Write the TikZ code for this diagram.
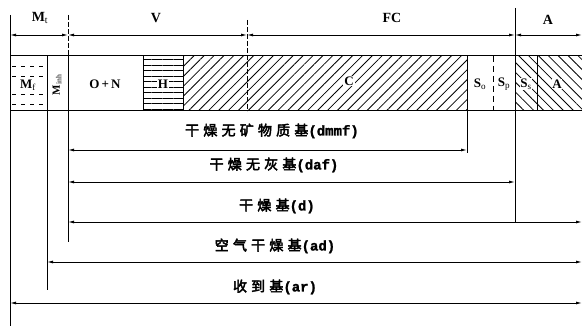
\documentclass[tikz,border=0pt]{standalone}
\usepackage{fontspec}
\setmainfont{Liberation Serif}
\newfontfamily\cjk{Noto Sans CJK SC}[FakeBold=3,LetterSpace=30]
\newfontfamily\monob{Liberation Mono}[FakeBold=1.5]
\usetikzlibrary{patterns.meta,arrows.meta}
\tikzset{
  dim/.style={line width=0.9pt,{Latex[length=6pt,width=3pt]}-{Latex[length=6pt,width=3pt]}},
  vline/.style={line width=1pt},
  dline/.style={line width=1pt,dash pattern=on 5pt off 2pt},
  toplab/.style={font=\bfseries\fontsize{14}{14}\selectfont,inner sep=1pt},
  barlab/.style={font=\bfseries\fontsize{13}{13}\selectfont,inner sep=1pt},
  baselab/.style={font=\fontsize{14}{14}\selectfont,inner sep=1pt},
}
\begin{document}
\begin{tikzpicture}[x=1pt,y=-1pt]
\useasboundingbox[fill=white] (0,0) rectangle (582,329);
% coordinates
\coordinate (L0) at (10,15);  \coordinate (L1) at (10,326);
\coordinate (a0) at (47,56);  \coordinate (a1) at (47,290);
\coordinate (b0) at (68,15);  \coordinate (b1) at (68,56); \coordinate (b2) at (68,242);
\coordinate (c0) at (143,56); \coordinate (c1) at (143,111);
\coordinate (h0) at (183,56); \coordinate (h1) at (183,111);
\coordinate (f0) at (247,20); \coordinate (f1) at (247,111);
\coordinate (s0) at (467,56); \coordinate (s1) at (467,153);
\coordinate (p0) at (493,56); \coordinate (p1) at (493,111);
\coordinate (r0) at (515,8);  \coordinate (r1) at (515,222);
\coordinate (q0) at (537,56); \coordinate (q1) at (537,111);
\coordinate (TL) at (10,56); \coordinate (TR) at (582,56);
\coordinate (BL) at (10,111); \coordinate (BR) at (582,111);
% fills
\fill[pattern={Lines[angle=45,distance=7pt,line width=0.8pt]}] (h0) rectangle (467,111);
\fill[pattern={Lines[angle=0,distance=5.5pt,line width=0.8pt]}] (c0) rectangle (h1);
\fill[pattern={Lines[angle=-45,distance=7pt,line width=0.8pt]}] (515,56) rectangle (BR);
% M_f dashes
\foreach \yy in {66,76,94,104}{
  \draw[line width=0.8pt,dash pattern=on 4pt off 5pt] (12,\yy) -- (46,\yy);}
% bar
\draw[vline] (TL) -- (TR);
\draw[vline] (BL) -- (BR);
\draw[vline] (L0) -- (L1);
\draw[vline] (a0) -- (a1);
\draw[dline] (b0) -- (b1);
\draw[vline] (b1) -- (b2);
\draw[vline] (c0) -- (c1);
\draw[line width=0.7pt] (h0) -- (h1);
\draw[dline] (f0) -- (f1);
\draw[vline] (s0) -- (s1);
\draw[line width=0.7pt,dash pattern=on 6pt off 4pt] (p0) -- (p1);
\draw[vline] (r0) -- (r1);
\draw[line width=0.7pt] (q0) -- (q1);
% top dimension
\coordinate (t0) at (10,35); \coordinate (t1) at (68,35);
\coordinate (t2) at (247,35); \coordinate (t3) at (515,35); \coordinate (t4) at (582,35);
\draw[dim] (t0) -- (t1);
\draw[dim] (t1) -- (t2);
\draw[dim] (t2) -- (t3);
\draw[dim] (t3) -- (t4);
\node[toplab] (Mt) at (40,18) {M$_\mathrm{t}$};
\node[toplab] (V) at (156,18) {V};
\node[toplab] (FC) at (392,18) {FC};
\node[toplab] (At) at (548,20) {A};
% bar labels
\node[barlab,fill=white,inner sep=0.5pt] (Mf) at (28,85) {M$_\mathrm{f}$};
\node[barlab,rotate=90,font=\bfseries\fontsize{11}{11}\selectfont] (Mi) at (57,85) {M$_\mathrm{inh}$};
\node[barlab] (ON) at (105,84) {O\,+\,N};
\node[barlab,fill=white,inner sep=1pt] (H) at (163,84) {H};
\node[barlab,fill=white,inner sep=1pt] (C) at (349,81) {C};
\node[barlab] (So) at (480,84) {S$_\mathrm{o}$};
\node[barlab] (Sp) at (504,84) {S$_\mathrm{p}$};
\node[barlab,fill=white,inner sep=0.5pt] (Ss) at (526,84) {S$_\mathrm{s}$};
\node[barlab,fill=white,inner sep=0.5pt] (Ab) at (557,84) {A};
% base dimensions
\coordinate (dm0) at (68,150); \coordinate (dm1) at (467,150);
\coordinate (da0) at (68,182); \coordinate (da1) at (515,182);
\coordinate (d0) at (68,222);  \coordinate (d1) at (582,222);
\coordinate (ad0) at (47,262); \coordinate (ad1) at (582,262);
\coordinate (ar0) at (10,303); \coordinate (ar1) at (582,303);
\draw[dim] (dm0) -- (dm1);
\draw[dim] (da0) -- (da1);
\draw[dim] (d0) -- (d1);
\draw[dim] (ad0) -- (ad1);
\draw[dim] (ar0) -- (ar1);
\node[baselab] (ldm) at (272,131) {\cjk 干燥无矿物质基\monob\bfseries(dmmf)};
\node[baselab] (lda) at (274,165) {\cjk 干燥无灰基\monob\bfseries(daf)};
\node[baselab] (ld) at (277,206) {\cjk 干燥基\monob\bfseries(d)};
\node[baselab] (lad) at (275,246) {\cjk 空气干燥基\monob\bfseries(ad)};
\node[baselab] (lar) at (275,287) {\cjk 收到基\monob\bfseries(ar)};
\end{tikzpicture}
\end{document}
